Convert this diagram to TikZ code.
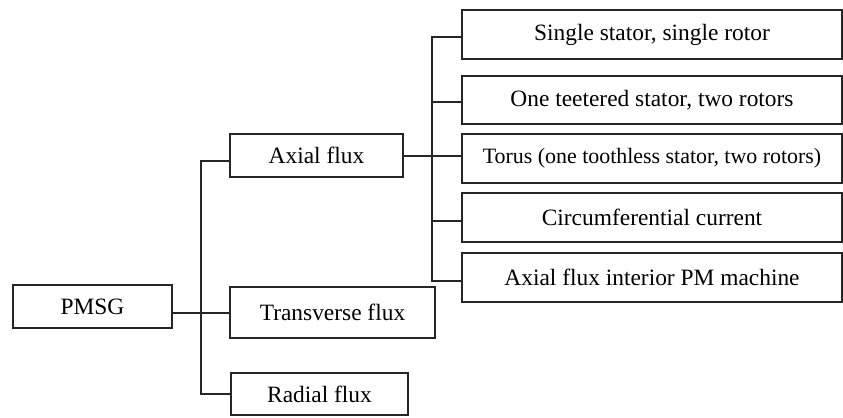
\documentclass[tikz,border=0pt]{standalone}
\usepackage{fontspec}
\setmainfont{Liberation Serif}
\begin{document}
\begin{tikzpicture}[x=1bp,y=-1bp,
  box/.style={draw=black!85, line width=2bp, rectangle, inner sep=0pt, font=\fontsize{23.5}{27}\selectfont},
  conn/.style={draw=black!85, line width=2bp}]
\useasboundingbox (0,0) rectangle (843,417);
\node[box, minimum width=159bp, minimum height=43bp] (pm) at (92.5,306.5) {PMSG};
\node[box, minimum width=173bp, minimum height=43bp] (ax) at (316.5,155.5) {Axial flux};
\node[box, minimum width=205bp, minimum height=51bp] (tr) at (332.5,312.5) {Transverse flux};
\node[box, minimum width=177bp, minimum height=42bp] (rad) at (319.5,394) {Radial flux};
\node[box, minimum width=380bp, minimum height=49bp] (b1) at (652,34.5) {Single stator, single rotor};
\node[box, minimum width=380bp, minimum height=48bp] (b2) at (652,100) {One teetered stator, two rotors};
\node[box, minimum width=380bp, minimum height=49bp, font=\fontsize{22}{26}\selectfont] (b3) at (652,158.5) {Torus (one toothless stator, two rotors)};
\node[box, minimum width=380bp, minimum height=49bp] (b4) at (652,217.5) {Circumferential current};
\node[box, minimum width=380bp, minimum height=49bp] (b5) at (652,277.5) {Axial flux interior PM machine};
\coordinate (s1) at (201,0);
\coordinate (s2) at (432,0);
\draw[conn] ([yshift=-5bp]ax.west) -- ([yshift=-5bp]ax.west -| s1) -- (rad.west -| s1) -- (rad.west);
\draw[conn] (pm.east |- tr.west) -- (tr.west);
\draw[conn] (ax.east) -- (ax.east -| b3.west);
\draw[conn] ([yshift=-2bp]b1.west) -- ([yshift=-2bp]b1.west -| s2) -- ([yshift=-3bp]b5.west -| s2) -- ([yshift=-3bp]b5.west);
\draw[conn] ([yshift=-2bp]b2.west) -- ([yshift=-2bp]b2.west -| s2);
\draw[conn] ([yshift=-3bp]b4.west) -- ([yshift=-3bp]b4.west -| s2);
\end{tikzpicture}
\end{document}
